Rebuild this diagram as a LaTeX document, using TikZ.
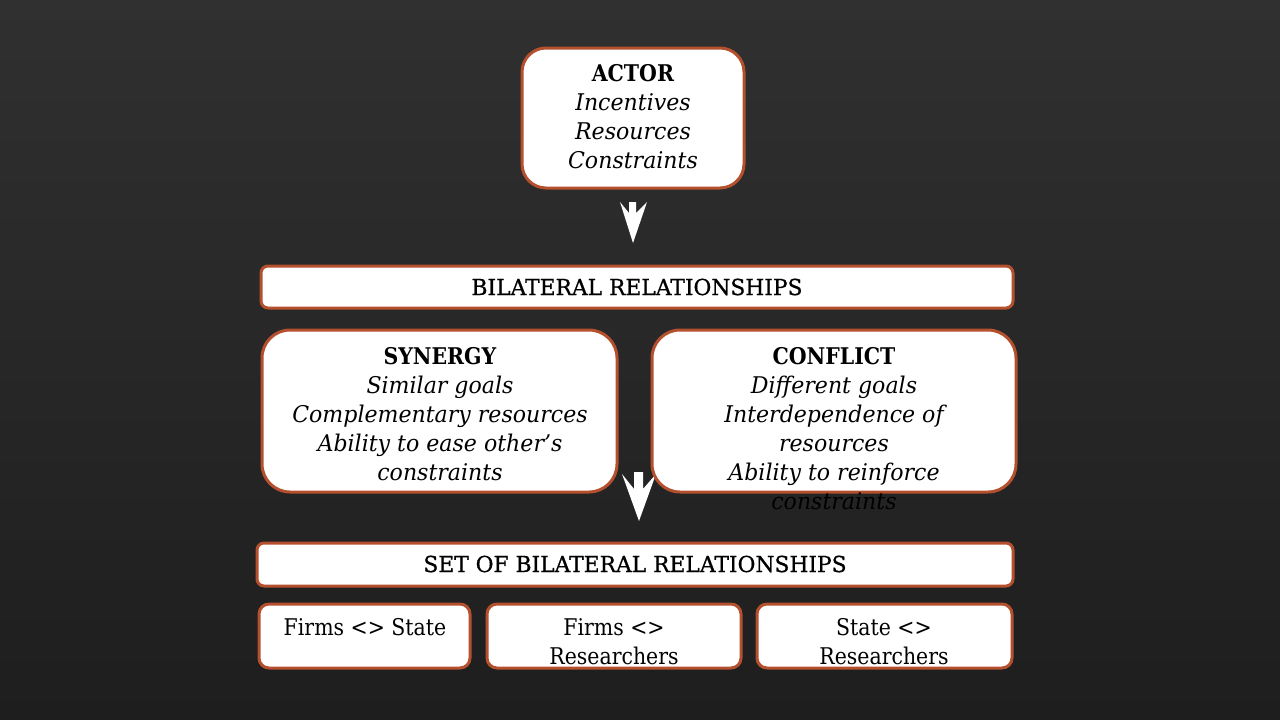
\documentclass[tikz,border=0pt]{standalone}
\usepackage{fontspec}
\setmainfont{DejaVu Serif}[FakeStretch=0.89]
\newfontfamily\itfont{DejaVu Serif}[FakeStretch=0.96]
\newfontfamily\barfont{DejaVu Serif}[FakeBold=0.8, FakeStretch=0.99]
\newcommand{\iti}[1]{{\itfont\itshape #1}}
\definecolor{boxedge}{HTML}{B4502D}
\definecolor{bgtop}{HTML}{303030}
\definecolor{bgbot}{HTML}{1E1E1E}
\begin{document}
\begin{tikzpicture}[x=1pt,y=-1pt,
  box/.style={draw=boxedge, line width=3pt, fill=white, rounded corners=#1, inner sep=0pt},
  txt/.style={font=\fontsize{23}{29}\selectfont, align=center, text=black, inner sep=0pt},
  bar/.style={font=\fontsize{22}{26}\selectfont\barfont, text=black, inner sep=0pt},
  blockarrow/.style={fill=white, draw=none}]
% background
\shade[top color=bgtop, bottom color=bgbot] (0,0) rectangle (1280,720);
\useasboundingbox (0,0) rectangle (1280,720);
% arrow behind the middle boxes
\fill[blockarrow] (622,474) -- (634,489) -- (634,472) -- (643,472) -- (643,489) -- (656,474) -- (639,521) -- cycle;
% boxes
\node[box=24pt, minimum width=222pt, minimum height=140pt] (actor) at (633,118) {};
\node[box=7pt, minimum width=752pt, minimum height=42pt] (bilat) at (637,287) {};
\node[box=28pt, minimum width=355pt, minimum height=162pt] (syn) at (439.5,411) {};
\node[box=28pt, minimum width=364pt, minimum height=162pt] (con) at (834,411) {};
\node[box=7pt, minimum width=756pt, minimum height=43pt] (set) at (635,564.5) {};
\node[box=10pt, minimum width=211pt, minimum height=64pt] (fs) at (364.5,636) {};
\node[box=10pt, minimum width=254pt, minimum height=64pt] (fr) at (614,636) {};
\node[box=10pt, minimum width=255pt, minimum height=64pt] (sr) at (884.5,636) {};
% texts
\node[txt] (actortxt) at (633,116.5) {\textbf{ACTOR}\\\iti{Incentives}\\\iti{Resources}\\\iti{Constraints}};
\node[bar] (bilattxt) at (637,287) {BILATERAL RELATIONSHIPS};
\node[txt] (syntxt) at (440,414) {\textbf{SYNERGY}\\\iti{Similar goals}\\\iti{Complementary resources}\\\iti{Ability to ease other’s}\\\iti{constraints}};
\node[txt] (contxt) at (834,428.5) {\textbf{CONFLICT}\\\iti{Different goals}\\\iti{Interdependence of}\\\iti{resources}\\\iti{Ability to reinforce}\\\iti{constraints}};
\node[bar] (settxt) at (635,564) {SET OF BILATERAL RELATIONSHIPS};
\node[txt] (fstxt) at (365,627) {Firms <> State};
\node[txt] (frtxt) at (614,641.5) {Firms <>\\Researchers};
\node[txt] (srtxt) at (884,641.5) {State <>\\Researchers};
% arrow between actor and bilateral
\fill[blockarrow] (620,202) -- (629,213) -- (629,202) -- (636,202) -- (636,213) -- (647,202) -- (633,243) -- cycle;
\end{tikzpicture}
\end{document}
